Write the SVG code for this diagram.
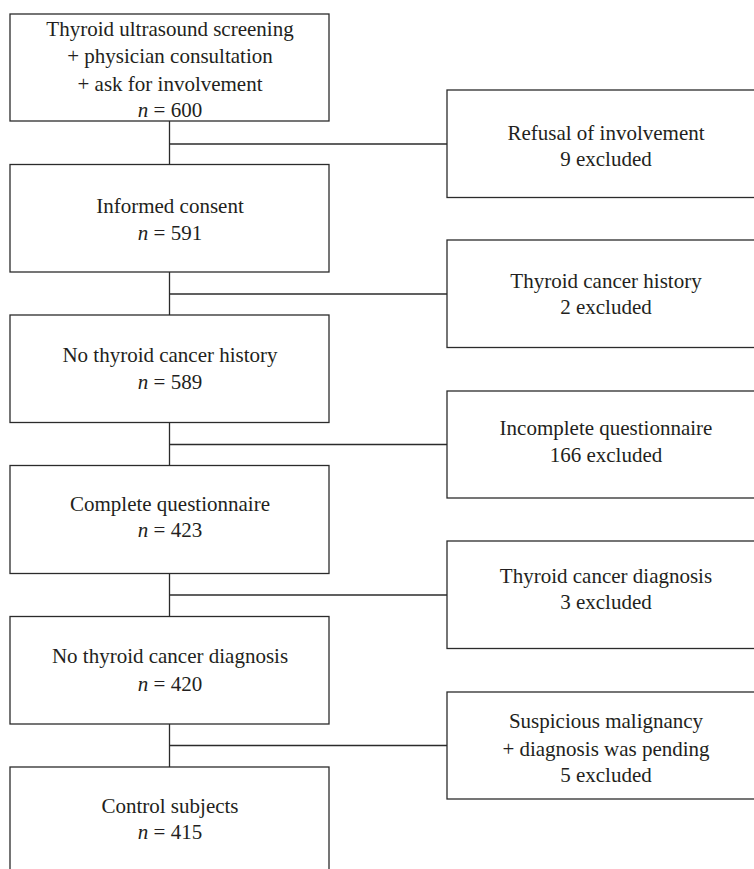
<svg xmlns="http://www.w3.org/2000/svg" width="754" height="869" viewBox="0 0 754 869">
<style>
  .box { fill: #ffffff; stroke: #2b2b2b; stroke-width: 1.3; }
  .conn { fill: none; stroke: #2b2b2b; stroke-width: 1.3; }
  text { font-family: "Liberation Serif", "Times New Roman", serif; font-size: 21px; fill: #231f20; text-anchor: middle; }
  .i { font-style: italic; }
</style>
<rect width="754" height="869" fill="#ffffff"/>
<g id="connectors">
  <line class="conn" x1="169.5" y1="121" x2="169.5" y2="164.5"/>
  <line class="conn" x1="169.5" y1="144" x2="447" y2="144"/>
  <line class="conn" x1="169.5" y1="272" x2="169.5" y2="315"/>
  <line class="conn" x1="169.5" y1="294" x2="447" y2="294"/>
  <line class="conn" x1="169.5" y1="422.5" x2="169.5" y2="465.5"/>
  <line class="conn" x1="169.5" y1="444.5" x2="447" y2="444.5"/>
  <line class="conn" x1="169.5" y1="573.5" x2="169.5" y2="616.5"/>
  <line class="conn" x1="169.5" y1="595" x2="447" y2="595"/>
  <line class="conn" x1="169.5" y1="724" x2="169.5" y2="767"/>
  <line class="conn" x1="169.5" y1="745.5" x2="447" y2="745.5"/>
</g>
<g id="n1">
  <rect class="box" x="10" y="14" width="319" height="107"/>
  <text x="170" y="35.5">Thyroid ultrasound screening</text>
  <text x="170" y="63">+ physician consultation</text>
  <text x="170" y="90.5">+ ask for involvement</text>
  <text x="170" y="117"><tspan class="i">n</tspan> = 600</text>
</g>
<g id="n2">
  <rect class="box" x="10" y="164.5" width="319" height="107.5"/>
  <text x="170" y="213">Informed consent</text>
  <text x="170" y="240"><tspan class="i">n</tspan> = 591</text>
</g>
<g id="n3">
  <rect class="box" x="10" y="315" width="319" height="107.5"/>
  <text x="170" y="362">No thyroid cancer history</text>
  <text x="170" y="388.5"><tspan class="i">n</tspan> = 589</text>
</g>
<g id="n4">
  <rect class="box" x="10" y="465.5" width="319" height="108"/>
  <text x="170" y="510.5">Complete questionnaire</text>
  <text x="170" y="537"><tspan class="i">n</tspan> = 423</text>
</g>
<g id="n5">
  <rect class="box" x="10" y="616.5" width="319" height="107.5"/>
  <text x="170" y="663">No thyroid cancer diagnosis</text>
  <text x="170" y="690.5"><tspan class="i">n</tspan> = 420</text>
</g>
<g id="n6">
  <rect class="box" x="10" y="767" width="319" height="120"/>
  <text x="170" y="812.5">Control subjects</text>
  <text x="170" y="839"><tspan class="i">n</tspan> = 415</text>
</g>
<g id="e1">
  <rect class="box" x="447" y="90" width="320" height="107.5"/>
  <text x="606" y="140">Refusal of involvement</text>
  <text x="606" y="166">9 excluded</text>
</g>
<g id="e2">
  <rect class="box" x="447" y="240" width="320" height="107.5"/>
  <text x="606" y="288">Thyroid cancer history</text>
  <text x="606" y="314">2 excluded</text>
</g>
<g id="e3">
  <rect class="box" x="447" y="391" width="320" height="107"/>
  <text x="606" y="435">Incomplete questionnaire</text>
  <text x="606" y="461.5">166 excluded</text>
</g>
<g id="e4">
  <rect class="box" x="447" y="541" width="320" height="107.5"/>
  <text x="606" y="582.5">Thyroid cancer diagnosis</text>
  <text x="606" y="609">3 excluded</text>
</g>
<g id="e5">
  <rect class="box" x="447" y="692" width="320" height="107"/>
  <text x="606" y="727.5">Suspicious malignancy</text>
  <text x="606" y="755.5">+ diagnosis was pending</text>
  <text x="606" y="781.5">5 excluded</text>
</g>
</svg>
